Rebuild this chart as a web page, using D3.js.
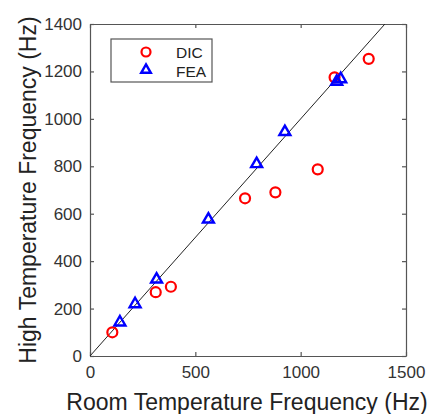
<!DOCTYPE html>
<html>
<head>
<meta charset="utf-8">
<script src="https://cdn.jsdelivr.net/npm/d3@7"></script>
<style>
  body { margin: 0; background: #fff; }
  text { font-family: "Liberation Sans", Arial, sans-serif; }
</style>
</head>
<body>
<div id="chart"></div>
<script>
// room temp (x) vs high temp (y), Hz
const dicX = [106, 312, 384, 736, 880, 1081, 1161, 1323];
const dicY = [100, 269, 292, 665, 690, 787, 1175, 1253];
const feaX = [142, 214, 316, 562, 791, 925, 1171, 1190];
const feaY = [142, 219, 323, 576, 810, 945, 1157, 1168];
const xTicks = [0, 500, 1000, 1500];
const yTicks = [0, 200, 400, 600, 800, 1000, 1200, 1400];
const legendNames = ["DIC", "FEA"];

const width = 436, height = 414;
const margin = {top: 24, right: 30, bottom: 58, left: 90};

let svg = d3.select("#chart").append("svg")
    .attr("width", width)
    .attr("height", height);

let x = d3.scaleLinear().domain([0, 1500]).range([margin.left, width - margin.right]);
let y = d3.scaleLinear().domain([0, 1400]).range([height - margin.bottom, margin.top]);

const axisColor = "#555";
const fmt = d3.format("d");

// axes with inward ticks
let xAxis = svg.append("g")
    .attr("transform", `translate(0,${y(0)})`)
    .call(d3.axisBottom(x).tickValues(xTicks).tickFormat(fmt).tickSizeInner(-4).tickSizeOuter(0).tickPadding(10));
let yAxis = svg.append("g")
    .attr("transform", `translate(${x(0)},0)`)
    .call(d3.axisLeft(y).tickValues(yTicks).tickFormat(fmt).tickSizeInner(-4).tickSizeOuter(0).tickPadding(8));
// mirrored top/right
let xTop = svg.append("g")
    .attr("transform", `translate(0,${y(1400)})`)
    .call(d3.axisTop(x).tickValues(xTicks).tickSizeInner(-4).tickSizeOuter(0).tickFormat(""));
let yRight = svg.append("g")
    .attr("transform", `translate(${x(1500)},0)`)
    .call(d3.axisRight(y).tickValues(yTicks).tickSizeInner(-4).tickSizeOuter(0).tickFormat(""));

[xAxis, yAxis, xTop, yRight].forEach(g => {
  g.selectAll("path, line").attr("stroke", axisColor).attr("stroke-width", 1.2);
  g.selectAll("text").style("font-size", "17px").attr("fill", "#333");
});

// 1:1 line
svg.append("line")
    .attr("x1", x(0)).attr("y1", y(0))
    .attr("x2", x(1400)).attr("y2", y(1400))
    .attr("stroke", "#222").attr("stroke-width", 1);

// DIC circles
svg.append("g").selectAll("circle").data(dicX).enter().append("circle")
    .attr("cx", d => x(d))
    .attr("cy", (d, i) => y(dicY[i]))
    .attr("r", 5)
    .attr("fill", "none")
    .attr("stroke", "#f00")
    .attr("stroke-width", 2.2);

// FEA triangles
let tri = d3.symbol().type(d3.symbolTriangle).size(52);
svg.append("g").selectAll("path").data(feaX).enter().append("path")
    .attr("d", tri)
    .attr("transform", (d, i) => `translate(${x(d)},${y(feaY[i])})`)
    .attr("fill", "none")
    .attr("stroke", "#00f")
    .attr("stroke-width", 2.4);

// legend
let lg = svg.append("g");
lg.append("rect")
    .attr("x", 111).attr("y", 39)
    .attr("width", 101).attr("height", 43)
    .attr("fill", "#fff")
    .attr("stroke", axisColor).attr("stroke-width", 1.2);
lg.append("circle")
    .attr("cx", 146).attr("cy", 52).attr("r", 4.5)
    .attr("fill", "none").attr("stroke", "#f00").attr("stroke-width", 2.2);
lg.append("path")
    .attr("d", d3.symbol().type(d3.symbolTriangle).size(40))
    .attr("transform", "translate(146,70)")
    .attr("fill", "none").attr("stroke", "#00f").attr("stroke-width", 2.4);
lg.selectAll("text.lab").data(legendNames).enter().append("text")
    .attr("x", 176)
    .attr("y", (d, i) => 57.5 + i * 19)
    .style("font-size", "15.5px")
    .attr("fill", "#222")
    .text(d => d);

// axis titles
svg.append("text")
    .attr("x", 247)
    .attr("y", 410)
    .attr("text-anchor", "middle")
    .style("font-size", "23px")
    .attr("fill", "#222")
    .text("Room Temperature Frequency (Hz)");
svg.append("text")
    .attr("transform", `translate(36,190) rotate(-90)`)
    .attr("text-anchor", "middle")
    .style("font-size", "23px")
    .attr("fill", "#222")
    .text("High Temperature Frequency (Hz)");
</script>
</body>
</html>
